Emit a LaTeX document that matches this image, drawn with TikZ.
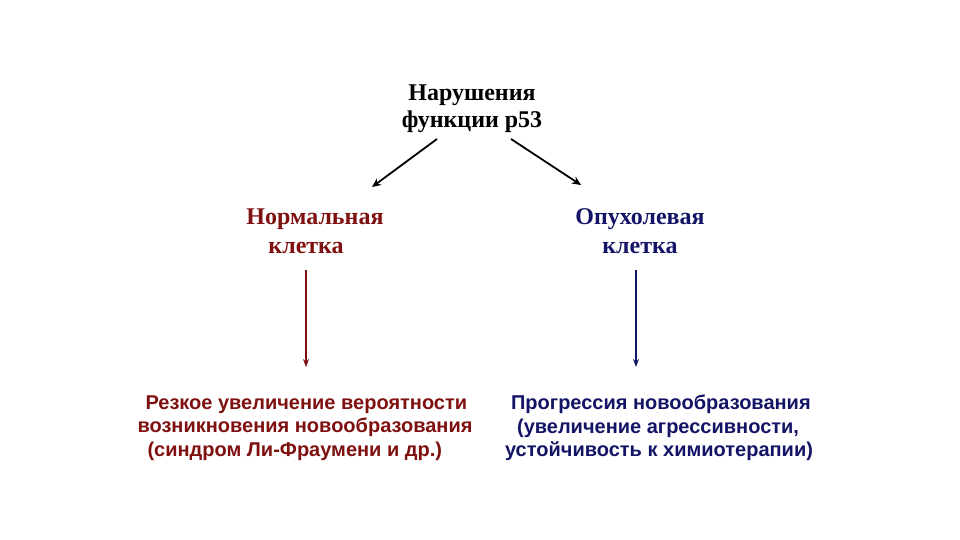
\documentclass[tikz,border=0pt]{standalone}
\usepackage{fontspec}
\setmainfont{Liberation Serif}
\newfontfamily\boxsans{Liberation Sans}
\usetikzlibrary{arrows.meta}
\definecolor{darkred}{HTML}{7F1010}
\definecolor{darkblue}{HTML}{141466}
\begin{document}
\begin{tikzpicture}[x=1pt,y=-1pt,
  head/.style={font=\fontsize{24}{27}\selectfont\bfseries, align=center, inner sep=0pt},
  mid/.style={font=\fontsize{24}{29}\selectfont\bfseries, inner sep=0pt},
  bottomtext/.style={font=\boxsans\fontsize{20}{23.5}\selectfont\bfseries, align=left, inner sep=0pt},
  arr/.style={-{Stealth[length=9pt,width=8pt]}, line width=1.8pt},
  varr/.style={-{Stealth[length=8pt,width=6pt]}, line width=1.3pt}]
\useasboundingbox (0,0) rectangle (960,540);
\node[head] (top) at (472,109) {Нарушения\\функции р53};
\node[mid, text=darkred, align=left] (normal) at (315,231) {Нормальная\\\hspace*{22pt}клетка};
\node[mid, text=darkblue, align=center] (tumor) at (640,231) {Опухолевая\\клетка};
\node[bottomtext, text=darkred] (risk) at (305,428) {\hspace*{8pt}Резкое увеличение вероятности\\возникновения новообразования\\\hspace*{10pt}(синдром Ли-Фраумени и др.)};
\node[bottomtext, text=darkblue] (prog) at (659,428) {\hspace*{6pt}Прогрессия новообразования\\\hspace*{12pt}(увеличение агрессивности,\\устойчивость к химиотерапии)};
\coordinate (tl) at (437,139);
\coordinate (tr) at (511,139);
\coordinate (nl) at (372,187);
\coordinate (nr) at (581,185);
\draw[arr] (tl) -- (nl);
\draw[arr] (tr) -- (nr);
\coordinate (ls) at (306,270);
\coordinate (le) at (306,367);
\coordinate (rs) at (636,270);
\coordinate (re) at (636,367);
\draw[varr, darkred] (ls) -- (le);
\draw[varr, darkblue] (rs) -- (re);
\end{tikzpicture}
\end{document}
